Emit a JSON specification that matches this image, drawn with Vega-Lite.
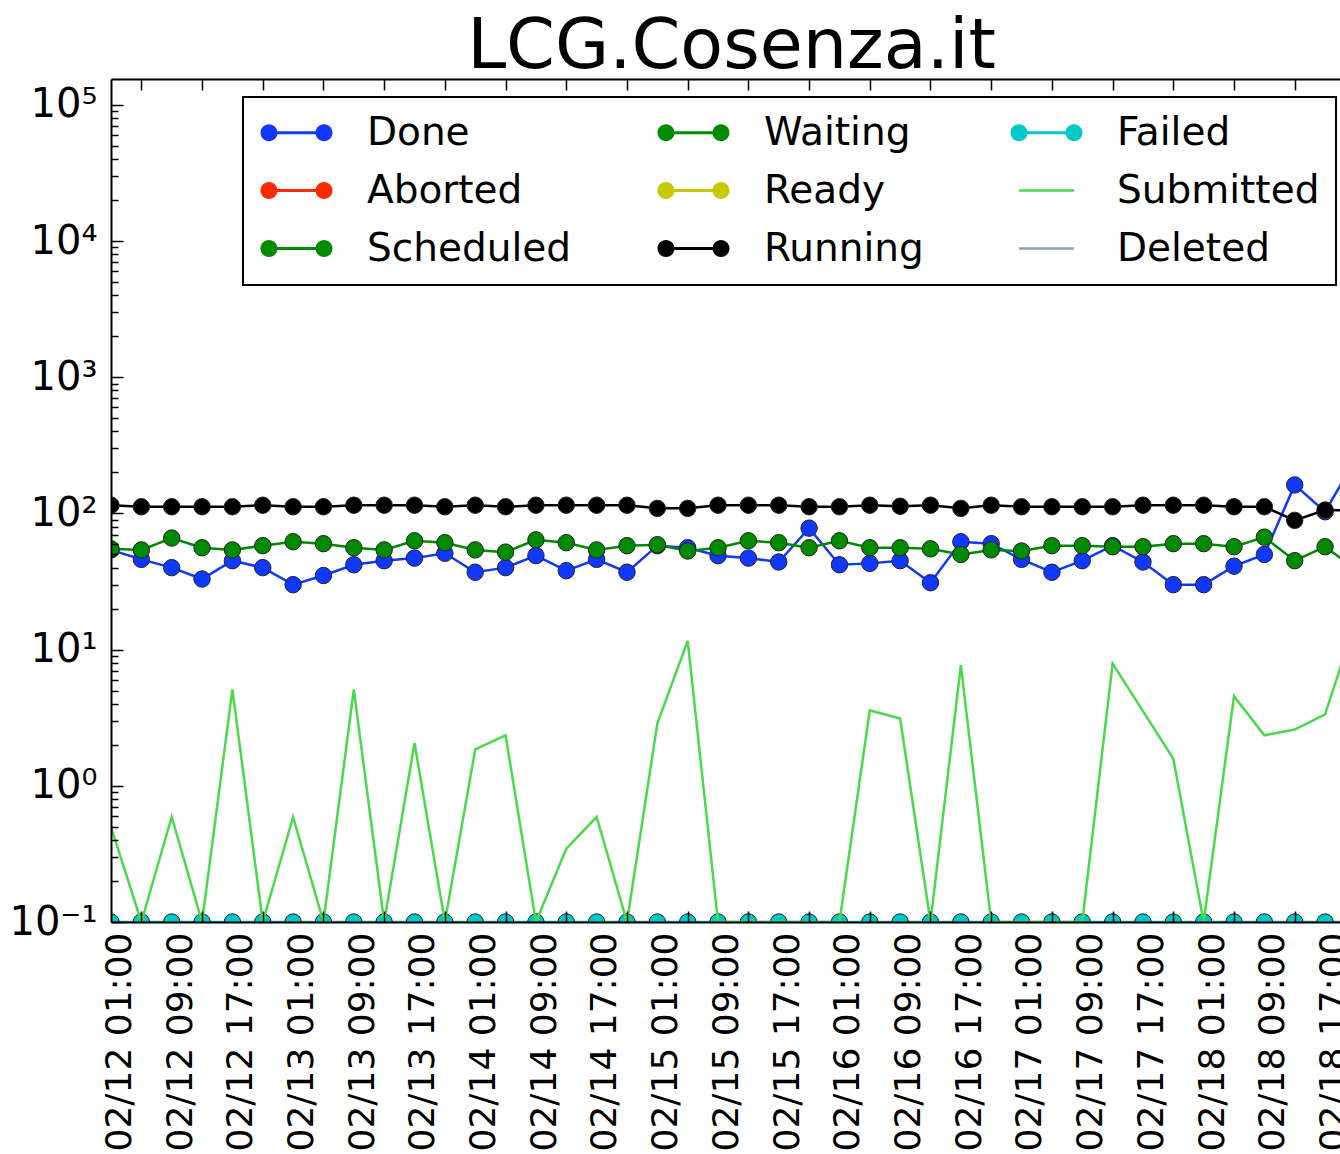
{
  "$schema": "https://vega.github.io/schema/vega-lite/v6.json",
  "width": 1251,
  "height": 843,
  "autosize": {"type": "none"},
  "padding": {"left": 111, "top": 79, "right": -22, "bottom": 232},
  "background": "white",
  "config": {"view": {"stroke": null}, "font": "DejaVu Sans"},
  "title": {"text": "LCG.Cosenza.it", "fontSize": 70, "font": "DejaVu Sans", "fontWeight": "normal", "color": "black", "offset": -5, "anchor": "middle", "frame": "group", "dx": -5},
  "data": {"values": [
    {"t": "2014-02-11T21:00:00Z", "Done": 54, "Scheduled": 55, "Running": 115, "Failed": 0.1, "Submitted": 0.5},
    {"t": "2014-02-12T01:00:00Z", "Done": 46, "Scheduled": 54, "Running": 112, "Failed": 0.1, "Submitted": 0.1},
    {"t": "2014-02-12T05:00:00Z", "Done": 40, "Scheduled": 66, "Running": 112, "Failed": 0.1, "Submitted": 0.59},
    {"t": "2014-02-12T09:00:00Z", "Done": 33, "Scheduled": 56, "Running": 112, "Failed": 0.1, "Submitted": 0.1},
    {"t": "2014-02-12T13:00:00Z", "Done": 45, "Scheduled": 54, "Running": 112, "Failed": 0.1, "Submitted": 5.1},
    {"t": "2014-02-12T17:00:00Z", "Done": 40, "Scheduled": 58, "Running": 115, "Failed": 0.1, "Submitted": 0.1},
    {"t": "2014-02-12T21:00:00Z", "Done": 30, "Scheduled": 62, "Running": 112, "Failed": 0.1, "Submitted": 0.59},
    {"t": "2014-02-13T01:00:00Z", "Done": 35, "Scheduled": 60, "Running": 112, "Failed": 0.1, "Submitted": 0.1},
    {"t": "2014-02-13T05:00:00Z", "Done": 42, "Scheduled": 56, "Running": 115, "Failed": 0.1, "Submitted": 5.1},
    {"t": "2014-02-13T09:00:00Z", "Done": 45, "Scheduled": 54, "Running": 115, "Failed": 0.1, "Submitted": 0.1},
    {"t": "2014-02-13T13:00:00Z", "Done": 47, "Scheduled": 63, "Running": 115, "Failed": 0.1, "Submitted": 2.06},
    {"t": "2014-02-13T17:00:00Z", "Done": 51, "Scheduled": 61, "Running": 112, "Failed": 0.1, "Submitted": 0.1},
    {"t": "2014-02-13T21:00:00Z", "Done": 37, "Scheduled": 54, "Running": 115, "Failed": 0.1, "Submitted": 1.85},
    {"t": "2014-02-14T01:00:00Z", "Done": 40, "Scheduled": 52, "Running": 112, "Failed": 0.1, "Submitted": 2.35},
    {"t": "2014-02-14T05:00:00Z", "Done": 49, "Scheduled": 64, "Running": 115, "Failed": 0.1, "Submitted": 0.1},
    {"t": "2014-02-14T09:00:00Z", "Done": 38, "Scheduled": 61, "Running": 115, "Failed": 0.1, "Submitted": 0.345},
    {"t": "2014-02-14T13:00:00Z", "Done": 46, "Scheduled": 54, "Running": 115, "Failed": 0.1, "Submitted": 0.59},
    {"t": "2014-02-14T17:00:00Z", "Done": 37, "Scheduled": 58, "Running": 115, "Failed": 0.1, "Submitted": 0.1},
    {"t": "2014-02-14T21:00:00Z", "Done": 58, "Scheduled": 59, "Running": 109, "Failed": 0.1, "Submitted": 2.86},
    {"t": "2014-02-15T01:00:00Z", "Done": 56, "Scheduled": 53, "Running": 109, "Failed": 0.1, "Submitted": 11.6},
    {"t": "2014-02-15T05:00:00Z", "Done": 49, "Scheduled": 56, "Running": 115, "Failed": 0.1, "Submitted": 0.1},
    {"t": "2014-02-15T09:00:00Z", "Done": 47, "Scheduled": 63, "Running": 115, "Failed": 0.1, "Submitted": 0.1},
    {"t": "2014-02-15T13:00:00Z", "Done": 44, "Scheduled": 61, "Running": 115, "Failed": 0.1, "Submitted": 0.1},
    {"t": "2014-02-15T17:00:00Z", "Done": 78, "Scheduled": 56, "Running": 112, "Failed": 0.1, "Submitted": 0.1},
    {"t": "2014-02-15T21:00:00Z", "Done": 42, "Scheduled": 63, "Running": 112, "Failed": 0.1, "Submitted": 0.1},
    {"t": "2014-02-16T01:00:00Z", "Done": 43, "Scheduled": 56, "Running": 115, "Failed": 0.1, "Submitted": 3.59},
    {"t": "2014-02-16T05:00:00Z", "Done": 45, "Scheduled": 56, "Running": 113, "Failed": 0.1, "Submitted": 3.12},
    {"t": "2014-02-16T09:00:00Z", "Done": 31, "Scheduled": 55, "Running": 115, "Failed": 0.1, "Submitted": 0.1},
    {"t": "2014-02-16T13:00:00Z", "Done": 62, "Scheduled": 50, "Running": 109, "Failed": 0.1, "Submitted": 7.68},
    {"t": "2014-02-16T17:00:00Z", "Done": 60, "Scheduled": 54, "Running": 115, "Failed": 0.1, "Submitted": 0.1},
    {"t": "2014-02-16T21:00:00Z", "Done": 46, "Scheduled": 53, "Running": 112, "Failed": 0.1, "Submitted": 0.1},
    {"t": "2014-02-17T01:00:00Z", "Done": 37, "Scheduled": 58, "Running": 112, "Failed": 0.1, "Submitted": 0.1},
    {"t": "2014-02-17T05:00:00Z", "Done": 45, "Scheduled": 58, "Running": 112, "Failed": 0.1, "Submitted": 0.1},
    {"t": "2014-02-17T09:00:00Z", "Done": 58, "Scheduled": 57, "Running": 112, "Failed": 0.1, "Submitted": 7.9},
    {"t": "2014-02-17T13:00:00Z", "Done": 44, "Scheduled": 57, "Running": 115, "Failed": 0.1, "Submitted": 3.54},
    {"t": "2014-02-17T17:00:00Z", "Done": 30, "Scheduled": 60, "Running": 115, "Failed": 0.1, "Submitted": 1.58},
    {"t": "2014-02-17T21:00:00Z", "Done": 30, "Scheduled": 60, "Running": 115, "Failed": 0.1, "Submitted": 0.1},
    {"t": "2014-02-18T01:00:00Z", "Done": 41, "Scheduled": 57, "Running": 112, "Failed": 0.1, "Submitted": 4.55},
    {"t": "2014-02-18T05:00:00Z", "Done": 50, "Scheduled": 67, "Running": 112, "Failed": 0.1, "Submitted": 2.35},
    {"t": "2014-02-18T09:00:00Z", "Done": 162, "Scheduled": 45, "Running": 89, "Failed": 0.1, "Submitted": 2.59},
    {"t": "2014-02-18T13:00:00Z", "Done": 103, "Scheduled": 57, "Running": 106, "Failed": 0.1, "Submitted": 3.35},
    {"t": "2014-02-18T17:00:00Z", "Done": 250, "Scheduled": 39, "Running": 105, "Failed": 0.1, "Submitted": 16}
  ]},
  "transform": [{"fold": ["Done", "Scheduled", "Running", "Failed", "Submitted"], "as": ["status", "jobs"]}],
  "layer": [
    {
      "transform": [{"filter": "datum.status !== 'Submitted'"}],
      "mark": {"type": "line", "strokeWidth": 2.5, "clip": true},
      "encoding": {
        "x": {"field": "t", "type": "temporal",
          "scale": {"type": "utc", "domain": [{"year": 2014, "month": 2, "date": 11, "hours": 21, "utc": true}, {"year": 2014, "month": 2, "date": 18, "hours": 17, "minutes": 52, "utc": true}]},
          "axis": {"orient": "bottom", "title": null, "grid": false,
            "values": [
              {"year": 2014, "month": 2, "date": 12, "hours": 1, "utc": true},
              {"year": 2014, "month": 2, "date": 12, "hours": 9, "utc": true},
              {"year": 2014, "month": 2, "date": 12, "hours": 17, "utc": true},
              {"year": 2014, "month": 2, "date": 13, "hours": 1, "utc": true},
              {"year": 2014, "month": 2, "date": 13, "hours": 9, "utc": true},
              {"year": 2014, "month": 2, "date": 13, "hours": 17, "utc": true},
              {"year": 2014, "month": 2, "date": 14, "hours": 1, "utc": true},
              {"year": 2014, "month": 2, "date": 14, "hours": 9, "utc": true},
              {"year": 2014, "month": 2, "date": 14, "hours": 17, "utc": true},
              {"year": 2014, "month": 2, "date": 15, "hours": 1, "utc": true},
              {"year": 2014, "month": 2, "date": 15, "hours": 9, "utc": true},
              {"year": 2014, "month": 2, "date": 15, "hours": 17, "utc": true},
              {"year": 2014, "month": 2, "date": 16, "hours": 1, "utc": true},
              {"year": 2014, "month": 2, "date": 16, "hours": 9, "utc": true},
              {"year": 2014, "month": 2, "date": 16, "hours": 17, "utc": true},
              {"year": 2014, "month": 2, "date": 17, "hours": 1, "utc": true},
              {"year": 2014, "month": 2, "date": 17, "hours": 9, "utc": true},
              {"year": 2014, "month": 2, "date": 17, "hours": 17, "utc": true},
              {"year": 2014, "month": 2, "date": 18, "hours": 1, "utc": true},
              {"year": 2014, "month": 2, "date": 18, "hours": 9, "utc": true},
              {"year": 2014, "month": 2, "date": 18, "hours": 17, "utc": true}
            ],
            "format": "%m/%d %H:%M", "labelAngle": 270, "labelAlign": "right", "labelBaseline": "middle",
            "labelOffset": -22, "labelFontSize": 36, "labelColor": "black", "labelPadding": 21, "labelLimit": 500,
            "labelFlush": false, "labelOverlap": false, "labelBound": false,
            "tickSize": -11, "tickColor": "black", "tickWidth": 1.5,
            "domainColor": "black", "domainWidth": 2, "zindex": 1}
        },
        "y": {"field": "jobs", "type": "quantitative",
          "scale": {"type": "log", "domain": [0.1, 155000], "nice": false},
          "axis": {"title": null, "grid": false,
            "values": [0.1, 0.2, 0.3, 0.4, 0.5, 0.6, 0.7, 0.8, 0.9, 1, 2, 3, 4, 5, 6, 7, 8, 9, 10, 20, 30, 40, 50, 60, 70, 80, 90, 100, 200, 300, 400, 500, 600, 700, 800, 900, 1000, 2000, 3000, 4000, 5000, 6000, 7000, 8000, 9000, 10000, 20000, 30000, 40000, 50000, 60000, 70000, 80000, 90000, 100000],
            "labelExpr": "datum.value == 100000 ? '10⁵' : datum.value == 10000 ? '10⁴' : datum.value == 1000 ? '10³' : datum.value == 100 ? '10²' : datum.value == 10 ? '10¹' : datum.value == 1 ? '10⁰' : datum.value == 0.1 ? '10⁻¹' : ''",
            "labelFontSize": 40, "labelColor": "black", "labelPadding": 26,
            "labelFlush": false, "labelOverlap": false,
            "tickSize": {"condition": {"test": "indexof([0.1, 1, 10, 100, 1000, 10000, 100000], datum.value) >= 0", "value": -12}, "value": -7},
            "tickColor": "black", "tickWidth": 1.5,
            "domainColor": "black", "domainWidth": 2, "zindex": 1}
        },
        "color": {"field": "status", "type": "nominal",
          "scale": {
            "domain": ["Done", "Aborted", "Scheduled", "Waiting", "Ready", "Running", "Failed", "Submitted", "Deleted"],
            "range": ["#1038ff", "#ff2a00", "#008a00", "#008a00", "#c8c800", "#000000", "#00c8c8", "#4cd84c", "#8aa0b4"]
          },
          "legend": {
            "title": null, "orient": "none", "legendX": 132, "legendY": 18, "columns": 3,
            "padding": 16, "fillColor": "white", "strokeColor": "black",
            "columnPadding": 85, "rowPadding": 18, "labelOffset": 69,
            "labelFontSize": 39, "labelColor": "black", "labelLimit": 500,
            "symbolSize": 1296,
            "encode": {
              "legend": {"update": {"strokeWidth": {"value": 2}}},
              "symbols": {"update": {
                "shape": {"signal": "datum.value === 'Submitted' || datum.value === 'Deleted' ? 'M-0.528,-0.07L2.528,-0.07L2.528,0.07L-0.528,0.07Z' : 'M-1,0A0.472,0.472,0,1,1,-0.056,0A0.472,0.472,0,1,1,-1,0ZM2.056,0A0.472,0.472,0,1,1,3,0A0.472,0.472,0,1,1,2.056,0ZM-0.1,-0.083L2.1,-0.083L2.1,0.083L-0.1,0.083Z'"},
                "fill": {"scale": "color", "field": "value"},
                "stroke": {"value": "transparent"},
                "strokeWidth": {"value": 0},
                "opacity": {"value": 1},
                "size": {"value": 1296}
              }}
            }
          }
        }
      }
    },
    {
      "transform": [{"filter": "datum.status !== 'Submitted'"}],
      "mark": {"type": "point", "filled": true, "size": 270, "stroke": "#222222", "strokeWidth": 1, "opacity": 1, "clip": true},
      "encoding": {
        "x": {"field": "t", "type": "temporal",
          "axis": {"orient": "top", "title": null, "labels": false, "grid": false,
            "values": [
              {"year": 2014, "month": 2, "date": 12, "hours": 1, "utc": true},
              {"year": 2014, "month": 2, "date": 12, "hours": 9, "utc": true},
              {"year": 2014, "month": 2, "date": 12, "hours": 17, "utc": true},
              {"year": 2014, "month": 2, "date": 13, "hours": 1, "utc": true},
              {"year": 2014, "month": 2, "date": 13, "hours": 9, "utc": true},
              {"year": 2014, "month": 2, "date": 13, "hours": 17, "utc": true},
              {"year": 2014, "month": 2, "date": 14, "hours": 1, "utc": true},
              {"year": 2014, "month": 2, "date": 14, "hours": 9, "utc": true},
              {"year": 2014, "month": 2, "date": 14, "hours": 17, "utc": true},
              {"year": 2014, "month": 2, "date": 15, "hours": 1, "utc": true},
              {"year": 2014, "month": 2, "date": 15, "hours": 9, "utc": true},
              {"year": 2014, "month": 2, "date": 15, "hours": 17, "utc": true},
              {"year": 2014, "month": 2, "date": 16, "hours": 1, "utc": true},
              {"year": 2014, "month": 2, "date": 16, "hours": 9, "utc": true},
              {"year": 2014, "month": 2, "date": 16, "hours": 17, "utc": true},
              {"year": 2014, "month": 2, "date": 17, "hours": 1, "utc": true},
              {"year": 2014, "month": 2, "date": 17, "hours": 9, "utc": true},
              {"year": 2014, "month": 2, "date": 17, "hours": 17, "utc": true},
              {"year": 2014, "month": 2, "date": 18, "hours": 1, "utc": true},
              {"year": 2014, "month": 2, "date": 18, "hours": 9, "utc": true},
              {"year": 2014, "month": 2, "date": 18, "hours": 17, "utc": true}
            ],
            "tickSize": -11, "tickColor": "black", "tickWidth": 1.5,
            "domainColor": "black", "domainWidth": 2, "zindex": 1}
        },
        "y": {"field": "jobs", "type": "quantitative"},
        "color": {"field": "status", "type": "nominal"}
      }
    },
    {
      "transform": [{"filter": "datum.status === 'Submitted'"}],
      "mark": {"type": "line", "strokeWidth": 2.5, "clip": true},
      "encoding": {
        "x": {"field": "t", "type": "temporal", "axis": null},
        "y": {"field": "jobs", "type": "quantitative"},
        "color": {"field": "status", "type": "nominal"}
      }
    }
  ],
  "resolve": {"axis": {"x": "independent"}}
}
